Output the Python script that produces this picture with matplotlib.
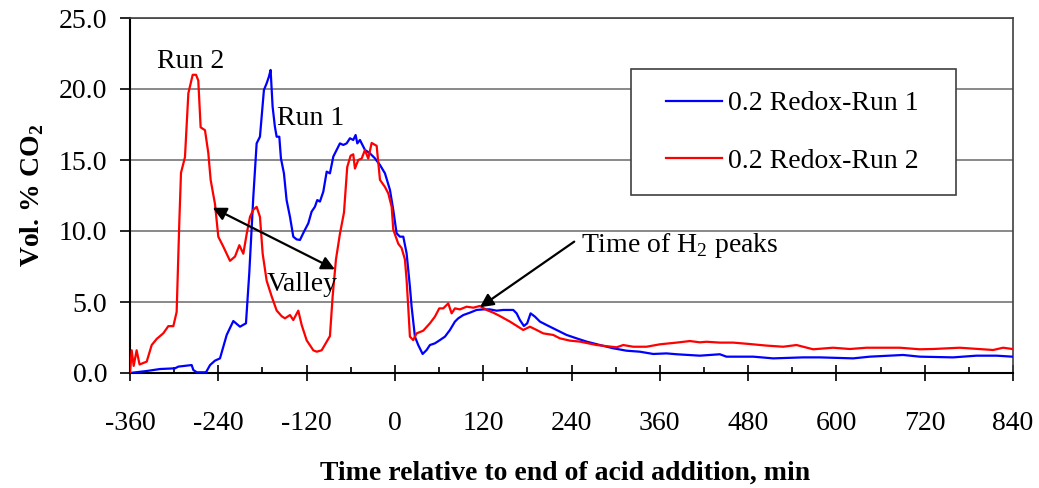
import matplotlib
matplotlib.use("Agg")
import matplotlib.pyplot as plt
from matplotlib.patches import Rectangle
from matplotlib.ticker import MultipleLocator, FormatStrFormatter

plt.rcParams['font.family'] = ['Liberation Serif', 'DejaVu Serif']
plt.rcParams['mathtext.fontset'] = 'custom'
plt.rcParams['mathtext.rm'] = 'Liberation Serif'
plt.rcParams['mathtext.bf'] = 'Liberation Serif:bold'
plt.rcParams['axes.unicode_minus'] = False

# Run 1 (blue): time relative to end of acid addition (min), vol % CO2
run1_t = [-360, -337.3, -319.2, -298.8, -294.3, -276.2, -273.9, -269.3, -256.7, -251.2,
          -244.5, -237.7, -228.6, -219.6, -210.5, -202.4, -197.9, -192.4, -187.9, -183.4,
          -178.0, -174.3, -171.2, -168.9, -166.2, -163.1, -160.7, -157.1, -154.9, -150.8,
          -147.2, -142.6, -138.1, -133.6, -129.0, -123.6, -117.7, -113.2, -108.7, -105.5,
          -101.9, -97.3, -92.7, -88.3, -83.7, -74.7, -70.1, -65.6, -61.1, -56.6,
          -53.4, -51.1, -47.5, -40.7, -33.9, -27.2, -20.3, -13.5, -6.7, -2.2,
          2.3, 6.8, 11.4, 15.9, 20.4, 22.7, 27.2, 31.7, 37.7, 43.1,
          47.6, 54.4, 61.2, 68.0, 74.8, 81.6, 86.1, 92.9, 102.0, 111.0,
          120.1, 129.1, 138.2, 147.2, 160.8, 165.4, 169.9, 175.3, 179.8, 184.4,
          190.3, 197.1, 206.1, 219.7, 233.3, 246.9, 260.5, 278.6, 296.7, 314.8,
          332.9, 351.1, 369.2, 382.8, 414.5, 441.6, 450.6, 487.0, 514.1, 554.8,
          577.4, 622.7, 645.3, 690.6, 713.4, 758.6, 790.3, 817.5, 839.3]
run1_co2 = [0.0, 0.14, 0.28, 0.33, 0.45, 0.56, 0.21, 0.05, 0.05, 0.56,
            0.87, 1.03, 2.68, 3.66, 3.26, 3.5, 7.04, 12.42, 16.17, 16.64,
            19.93, 20.4, 20.87, 21.34, 18.76, 17.35, 16.64, 16.64, 15.12, 14.06,
            12.18, 11.0, 9.6, 9.41, 9.37, 9.95, 10.54, 11.36, 11.71, 12.18,
            12.07, 12.77, 14.18, 14.06, 15.24, 16.17, 16.06, 16.17, 16.53, 16.41,
            16.76, 16.17, 16.41, 15.71, 15.47, 15.12, 14.65, 14.06, 12.89, 11.48,
            9.84, 9.6, 9.6, 8.43, 6.08, 4.67, 2.56, 1.97, 1.34, 1.62,
            1.97, 2.09, 2.32, 2.56, 3.03, 3.62, 3.85, 4.08, 4.25, 4.44,
            4.48, 4.48, 4.39, 4.44, 4.44, 4.2, 3.73, 3.31, 3.5, 4.2,
            3.97, 3.62, 3.38, 3.03, 2.68, 2.44, 2.21, 1.97, 1.74, 1.57,
            1.5, 1.34, 1.38, 1.32, 1.22, 1.32, 1.15, 1.15, 1.03, 1.1,
            1.1, 1.03, 1.15, 1.27, 1.15, 1.1, 1.22, 1.22, 1.15]

# Run 2 (red)
run2_t = [-360, -357.7, -355.0, -351.0, -347.0, -337.3, -330.5, -323.7, -314.7, -307.9,
          -301.1, -296.6, -293.0, -290.7, -285.3, -280.7, -274.8, -270.3, -267.2, -264.0,
          -258.1, -253.6, -250.4, -244.5, -240.0, -233.2, -224.1, -217.3, -211.4, -206.0,
          -201.4, -196.9, -192.4, -187.9, -183.4, -179.7, -174.3, -167.5, -160.7, -153.9,
          -149.4, -142.6, -138.1, -131.3, -126.7, -119.9, -110.9, -106.3, -99.5, -92.7,
          -88.3, -84.6, -80.1, -74.7, -69.2, -64.8, -60.2, -56.6, -54.3, -49.8,
          -45.2, -40.7, -36.2, -31.6, -24.8, -20.3, -13.5, -9.0, -4.4, -2.2,
          4.6, 9.1, 13.6, 15.9, 18.1, 20.4, 24.9, 29.5, 38.5, 47.6,
          54.4, 60.3, 65.7, 72.5, 77.1, 81.6, 88.4, 97.5, 106.5, 115.5,
          124.6, 133.6, 142.7, 156.3, 174.4, 183.5, 192.6, 201.6, 215.2, 224.2,
          237.8, 251.4, 274.1, 301.3, 310.3, 323.9, 342.0, 360.1, 382.8, 400.9,
          414.5, 423.5, 441.6, 459.7, 482.4, 505.0, 527.6, 545.8, 568.4, 595.5,
          618.3, 641.0, 686.2, 713.4, 731.5, 767.7, 799.4, 813.0, 826.6, 839.3]
run2_co2 = [0.0, 1.6, 0.5, 1.6, 0.6, 0.8, 1.97, 2.4, 2.8, 3.3,
            3.3, 4.3, 10.6, 14.1, 15.2, 19.7, 21.0, 21.0, 20.6, 17.3,
            17.1, 15.5, 13.6, 11.9, 9.6, 8.9, 7.9, 8.2, 9.0, 8.4,
            9.8, 11.0, 11.5, 11.7, 11.0, 8.4, 6.5, 5.4, 4.4, 4.0,
            3.85, 4.08, 3.73, 4.39, 3.38, 2.3, 1.6, 1.5, 1.6, 2.2,
            2.6, 5.4, 8.0, 9.8, 11.3, 14.5, 15.3, 15.4, 14.4, 15.0,
            15.1, 15.7, 15.1, 16.2, 16.0, 13.6, 13.1, 12.65, 11.7, 10.1,
            9.1, 8.8, 8.0, 6.55, 4.67, 2.56, 2.32, 2.79, 2.98, 3.5,
            3.97, 4.55, 4.55, 4.9, 4.2, 4.55, 4.48, 4.67, 4.6, 4.72,
            4.44, 4.25, 4.01, 3.62, 3.03, 3.26, 3.03, 2.79, 2.68, 2.44,
            2.28, 2.21, 1.97, 1.81, 1.97, 1.85, 1.85, 2.02, 2.14, 2.25,
            2.16, 2.2, 2.14, 2.14, 2.04, 1.93, 1.85, 1.97, 1.67, 1.78,
            1.69, 1.78, 1.78, 1.67, 1.69, 1.78, 1.67, 1.62, 1.78, 1.69]

labels = ['0.2 Redox-Run 1', '0.2 Redox-Run 2']
x_ticks = list(range(-360, 841, 120))

fig = plt.figure(figsize=(10.39, 4.88), dpi=100)
ax = fig.add_axes([130 / 1039, 115 / 488, 883 / 1039, 355 / 488])

ax.plot(run1_t, run1_co2, color='#0000FF', lw=1.6, label=labels[0], zorder=3)
ax.plot(run2_t, run2_co2, color='#FF0000', lw=1.6, label=labels[1], zorder=3)

ax.set_xlim(-360, 840)
ax.set_ylim(0, 25)
ax.set_xticks(x_ticks)
ax.xaxis.set_minor_locator(MultipleLocator(60))
ax.yaxis.set_major_locator(MultipleLocator(5))
ax.yaxis.set_major_formatter(FormatStrFormatter('%.1f'))
ax.tick_params(axis='x', which='major', direction='inout', length=11, width=1.2,
               labelsize=20, pad=22)
ax.tick_params(axis='x', which='minor', direction='in', length=4, width=1.2)
ax.tick_params(axis='y', which='major', direction='out', length=7.5, width=1.2,
               labelsize=20, pad=9)

ax.grid(axis='y', color='#808080', lw=1.3, zorder=0)
ax.set_axisbelow(True)
for side in ['left', 'bottom']:
    ax.spines[side].set_color('black')
    ax.spines[side].set_linewidth(1.5)
for side in ['top', 'right']:
    ax.spines[side].set_color('#404040')
    ax.spines[side].set_linewidth(1.2)

ax.set_xlabel('Time relative to end of acid addition, min', fontsize=20, fontweight='bold')
ax.xaxis.set_label_coords((565 - 130) / 883, -0.2817)
ax.xaxis.label.set_va('center')
ax.set_ylabel(r'Vol. % CO$_\mathbf{2}$', fontsize=20, fontweight='bold')
ax.yaxis.set_label_coords(-0.111, 0.5)
ax.yaxis.label.set_va('center')

# legend box
ax.add_patch(Rectangle((0.567, 0.501), 0.369, 0.3545, transform=ax.transAxes,
                       facecolor='white', edgecolor='#404040', lw=1.2, zorder=4))
ax.legend(loc='center left', bbox_to_anchor=(0.607, 0.678), frameon=False,
          fontsize=20, handlelength=2.0, handletextpad=0.25, labelspacing=1.15,
          borderpad=0, borderaxespad=0).set_zorder(5)

# annotations
ax.text(-277.8, 21.48, 'Run 2', fontsize=20, ha='center', va='baseline')
ax.text(-114.3, 17.46, 'Run 1', fontsize=20, ha='center', va='baseline')
ax.text(-125.6, 5.8, 'Valley', fontsize=20, ha='center', va='baseline')
ax.annotate('', xy=(-247.6, 11.64), xytext=(-81.5, 7.3),
            arrowprops=dict(arrowstyle='<|-|>', color='black', lw=1.6,
                            mutation_scale=20, shrinkA=0, shrinkB=0))
ax.text(252.4, 8.54, r'Time of H$_\mathregular{2}$ peaks', fontsize=20,
        ha='left', va='baseline')
ax.annotate('', xy=(115.5, 4.63), xytext=(243.7, 9.25),
            arrowprops=dict(arrowstyle='-|>', color='black', lw=1.6,
                            mutation_scale=20, shrinkA=0, shrinkB=0))

fig.savefig('out.png', dpi=100)
